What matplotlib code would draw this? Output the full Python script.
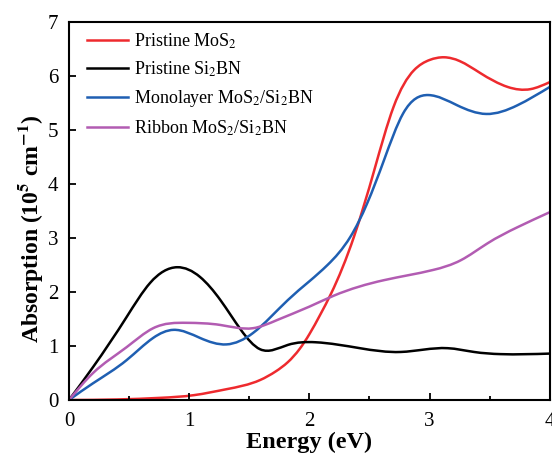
import matplotlib
matplotlib.use("Agg")
import matplotlib.pyplot as plt
import numpy as np
from matplotlib.path import Path
from matplotlib.patches import PathPatch
from matplotlib.lines import Line2D
from matplotlib.ticker import MultipleLocator

plt.rcParams['font.family'] = ['Liberation Serif', 'DejaVu Serif']
plt.rcParams['mathtext.fontset'] = 'stix'

# Pristine MoS2
e_mos2 = [0, 0.4, 0.76, 1.04, 1.31, 1.59, 1.72, 1.82, 1.92, 2.0, 2.09, 2.18, 2.37, 2.54,
          2.7, 2.87, 3.0, 3.12, 3.25, 3.42, 3.65, 3.84, 4.0]
a_mos2 = [0, 0.01, 0.04, 0.09, 0.2, 0.37, 0.53, 0.7, 0.95, 1.22, 1.58, 1.97, 3.02, 4.26,
          5.43, 6.11, 6.3, 6.35, 6.28, 6.06, 5.8, 5.76, 5.89]

# Pristine Si2BN
e_si2bn = [0, 0.2, 0.48, 0.675, 0.9, 1.09, 1.26, 1.43, 1.59, 1.82, 2.05, 2.42, 2.76,
           3.15, 3.37, 3.59, 4.0]
a_si2bn = [0, 0.61, 1.54, 2.17, 2.46, 2.28, 1.85, 1.3, 0.94, 1.02, 1.07, 0.96, 0.89,
           0.96, 0.89, 0.85, 0.86]

# Monolayer MoS2/Si2BN
e_mono = [0, 0.2, 0.48, 0.7, 0.87, 1.09, 1.31, 1.53, 1.82, 2.0, 2.15, 2.34, 2.48, 2.62,
          2.78, 2.99, 3.23, 3.47, 3.73, 4.0]
a_mono = [0, 0.31, 0.74, 1.15, 1.3, 1.15, 1.03, 1.24, 1.85, 2.2, 2.5, 3.02, 3.64, 4.44,
          5.31, 5.65, 5.46, 5.3, 5.46, 5.8]

# Ribbon MoS2/Si2BN
e_rib = [0, 0.2, 0.48, 0.7, 0.98, 1.26, 1.53, 1.73, 2.0, 2.2, 2.62, 3.03, 3.26, 3.48,
         3.73, 4.0]
a_rib = [0, 0.5, 0.98, 1.33, 1.43, 1.39, 1.33, 1.48, 1.73, 1.93, 2.22, 2.41, 2.59, 2.9,
         3.2, 3.48]

labels = [r'Pristine MoS$_2$', r'Pristine Si$_2$BN',
          r'Monolayer MoS$_2$/Si$_2$BN', r'Ribbon MoS$_2$/Si$_2$BN']
colors = ['#ee2a2e', 'black', '#1f5fb2', '#b25cb2']


def smooth_path(x, y):
    # natural cubic spline through the points, written as bezier segments
    x = np.asarray(x, float)
    y = np.asarray(y, float)
    n = len(x)
    h = np.diff(x)
    d = np.diff(y) / h
    A = np.zeros((n, n))
    b = np.zeros(n)
    A[0, 0], A[0, 1], b[0] = 2, 1, 3 * d[0]
    A[-1, -2], A[-1, -1], b[-1] = 1, 2, 3 * d[-1]
    for i in range(1, n - 1):
        A[i, i - 1] = h[i]
        A[i, i] = 2 * (h[i - 1] + h[i])
        A[i, i + 1] = h[i - 1]
        b[i] = 3 * (h[i] * d[i - 1] + h[i - 1] * d[i])
    m = np.linalg.solve(A, b)
    verts = [(x[0], y[0])]
    codes = [Path.MOVETO]
    for i in range(n - 1):
        t = h[i] / 3
        verts += [(x[i] + t, y[i] + m[i] * t), (x[i + 1] - t, y[i + 1] - m[i + 1] * t),
                  (x[i + 1], y[i + 1])]
        codes += [Path.CURVE4] * 3
    return Path(verts, codes)


fig = plt.figure(figsize=(5.52, 4.53), dpi=100)
ax = fig.add_axes([0.125, 0.117, 0.871, 0.834])

lw = 1.8
series = [(e_mos2, a_mos2), (e_si2bn, a_si2bn), (e_mono, a_mono), (e_rib, a_rib)]
handles = []
for (xs, ys), c, lab in zip(series, colors, labels):
    ax.add_patch(PathPatch(smooth_path(xs, ys), fill=False, edgecolor=c, lw=lw))
    handles.append(Line2D([], [], color=c, lw=lw, label=lab))

ax.set_xlim(0, 4)
ax.set_ylim(0, 7)
ax.xaxis.set_major_locator(MultipleLocator(1))
ax.xaxis.set_minor_locator(MultipleLocator(0.5))
ax.yaxis.set_major_locator(MultipleLocator(1))
ax.tick_params(which='both', direction='in', labelsize=15, width=1.3)
ax.tick_params(which='major', length=5)
ax.tick_params(which='minor', length=3)
ax.tick_params(axis='x', which='major', pad=9)
ax.tick_params(axis='y', which='major', pad=7.5)
for s in ax.spines.values():
    s.set_linewidth(1.5)

ax.set_xlabel('Energy (eV)', fontsize=17.5, fontweight='bold', labelpad=0)
ax.set_ylabel(r'Absorption (10$^\mathbf{5}$ cm$^\mathbf{-1}$)', fontsize=17, fontweight='bold')
ax.yaxis.set_label_coords(-0.05, 0.452)

ax.legend(handles=handles, loc='upper left', frameon=False, fontsize=13, handlelength=2.3,
          labelspacing=0.5, borderaxespad=0.1, handletextpad=0.3,
          bbox_to_anchor=(0.018, 1.0))

fig.savefig('out.png', dpi=100)
